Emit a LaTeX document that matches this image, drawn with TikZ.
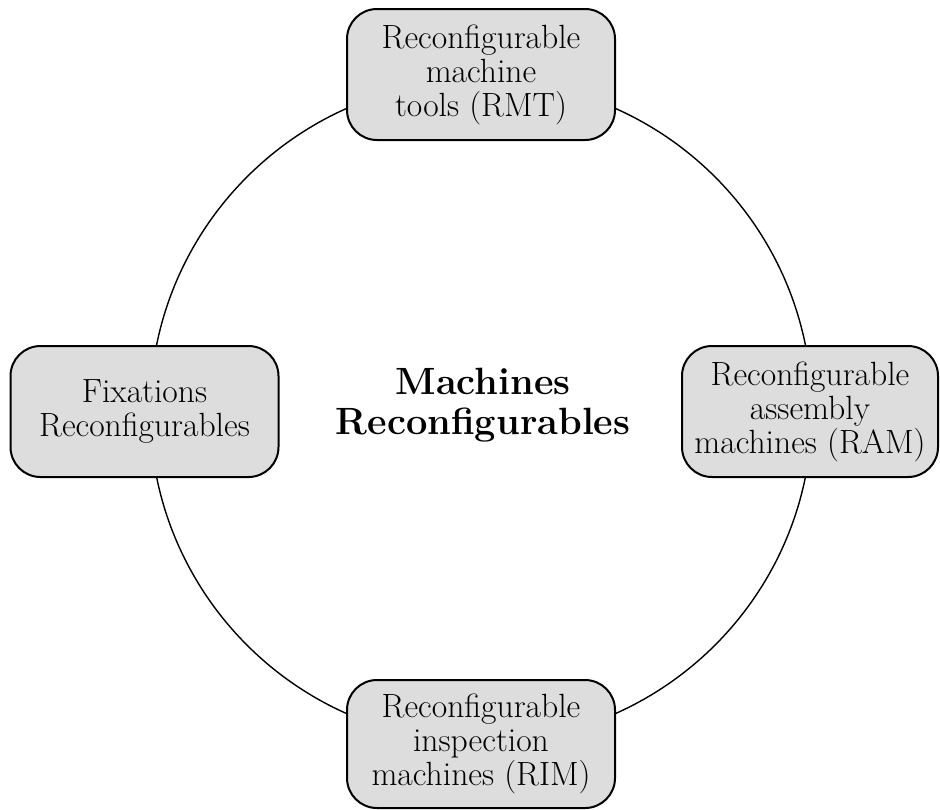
\documentclass[tikz,border=0pt]{standalone}
\definecolor{boxgray}{RGB}{221,221,221}
\begin{document}
\begin{tikzpicture}[x=0.5pt,y=-0.5pt,
  box/.style={draw, line width=1pt, fill=boxgray, rounded corners=15pt,
    minimum width=134pt, minimum height=65.5pt, align=center,
    font=\fontsize{16.8}{17}\selectfont, inner sep=0pt},
  ring/.style={draw, circle, line width=0.7pt, minimum size=331pt, inner sep=0pt}]
\useasboundingbox (0,0) rectangle (940,809);
\node[ring] (ring) at (481,411) {};
\node[box] (rmt) at (481,74.5) {Reconfigurable\\machine\\tools (RMT)};
\node[box] (fix) at (144.5,411.5) {Fixations\\Reconfigurables};
\node[box, minimum width=128pt] (ram) at (810,411.5) {Reconfigurable\\assembly\\machines (RAM)};
\node[box, minimum height=64pt] (rim) at (481,744) {Reconfigurable\\inspection\\machines (RIM)};
\node[font=\fontsize{19}{20}\selectfont\bfseries, align=center, inner sep=0pt] (title) at (483,405) {Machines\\Reconfigurables};
\end{tikzpicture}
\end{document}
